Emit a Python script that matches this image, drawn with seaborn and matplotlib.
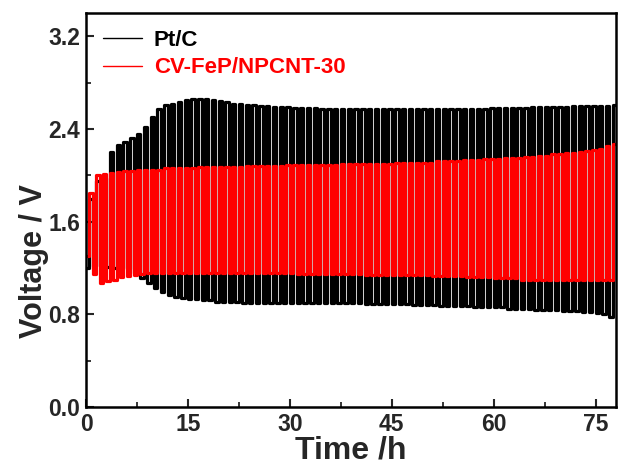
import numpy as np
import pandas as pd
import matplotlib
matplotlib.use("Agg")
import matplotlib.pyplot as plt
from matplotlib.ticker import MultipleLocator
import seaborn as sns

# One charge/discharge cycle per hour: discharge plateau then charge plateau (V)
series_names = ["Pt/C", "CV-FeP/NPCNT-30"]
series_colors = ["#000000", "#ff0000"]

ptc_charge = [
    1.80, 1.95, 1.98, 2.20, 2.26, 2.29, 2.32, 2.36, 2.42, 2.50,
    2.57, 2.61, 2.62, 2.63, 2.65, 2.66, 2.66, 2.66, 2.65, 2.64,
    2.63, 2.62, 2.62, 2.61, 2.61, 2.60, 2.60, 2.59, 2.59, 2.59,
    2.58, 2.58, 2.58, 2.58, 2.57, 2.57, 2.57, 2.57, 2.57, 2.57,
    2.57, 2.57, 2.57, 2.57, 2.57, 2.57, 2.57, 2.57, 2.57, 2.57,
    2.57, 2.57, 2.57, 2.57, 2.57, 2.57, 2.57, 2.57, 2.57, 2.58,
    2.58, 2.58, 2.58, 2.58, 2.58, 2.59, 2.59, 2.59, 2.59, 2.59,
    2.59, 2.60, 2.60, 2.60, 2.60, 2.60, 2.60, 2.61,
]
ptc_discharge = [
    1.20, 1.22, 1.22, 1.21, 1.20, 1.20, 1.19, 1.16, 1.11, 1.07,
    1.03, 0.99, 0.97, 0.95, 0.94, 0.93, 0.93, 0.92, 0.92, 0.91,
    0.91, 0.91, 0.91, 0.90, 0.90, 0.90, 0.90, 0.90, 0.90, 0.90,
    0.90, 0.90, 0.90, 0.90, 0.90, 0.90, 0.90, 0.90, 0.90, 0.90,
    0.90, 0.89, 0.89, 0.89, 0.89, 0.89, 0.89, 0.89, 0.88, 0.88,
    0.88, 0.88, 0.87, 0.87, 0.87, 0.87, 0.87, 0.86, 0.86, 0.86,
    0.86, 0.86, 0.85, 0.85, 0.85, 0.85, 0.84, 0.84, 0.84, 0.84,
    0.83, 0.83, 0.83, 0.82, 0.82, 0.81, 0.80, 0.78,
]
fep_charge = [
    1.85, 2.00, 2.01, 2.02, 2.03, 2.04, 2.04, 2.05, 2.05, 2.05,
    2.05, 2.06, 2.06, 2.06, 2.06, 2.06, 2.07, 2.07, 2.07, 2.07,
    2.07, 2.07, 2.07, 2.08, 2.08, 2.08, 2.08, 2.08, 2.08, 2.09,
    2.09, 2.09, 2.09, 2.09, 2.09, 2.09, 2.09, 2.10, 2.10, 2.10,
    2.10, 2.10, 2.10, 2.10, 2.10, 2.11, 2.11, 2.11, 2.11, 2.11,
    2.11, 2.12, 2.12, 2.12, 2.12, 2.13, 2.13, 2.13, 2.14, 2.14,
    2.14, 2.15, 2.15, 2.15, 2.16, 2.16, 2.17, 2.17, 2.18, 2.18,
    2.19, 2.19, 2.20, 2.21, 2.22, 2.23, 2.25, 2.27,
]
fep_discharge = [
    1.30, 1.15, 1.07, 1.09, 1.10, 1.12, 1.13, 1.14, 1.15, 1.16,
    1.16, 1.16, 1.16, 1.16, 1.16, 1.16, 1.16, 1.16, 1.16, 1.16,
    1.16, 1.16, 1.16, 1.16, 1.16, 1.16, 1.16, 1.16, 1.16, 1.16,
    1.16, 1.15, 1.15, 1.15, 1.15, 1.15, 1.15, 1.15, 1.15, 1.15,
    1.15, 1.14, 1.14, 1.14, 1.14, 1.14, 1.14, 1.14, 1.14, 1.14,
    1.14, 1.13, 1.13, 1.13, 1.13, 1.13, 1.12, 1.12, 1.12, 1.12,
    1.11, 1.11, 1.11, 1.11, 1.10, 1.10, 1.10, 1.10, 1.10, 1.10,
    1.10, 1.10, 1.10, 1.10, 1.10, 1.10, 1.10, 1.10,
]

x_ticks = [0, 15, 30, 45, 60, 75]
y_ticks = [0.0, 0.8, 1.6, 2.4, 3.2]


def cycling_trace(name, charge, discharge):
    """Step trace: each hour-long cycle discharges for 0.5 h, then charges for 0.5 h."""
    rows = []
    for i, (up, low) in enumerate(zip(charge, discharge)):
        rows += [(i, low), (i + 0.5, low), (i + 0.5, up), (i + 1.0, up)]
    df = pd.DataFrame(rows, columns=["Time", "Voltage"])
    df["electrode"] = name
    return df


data = pd.concat([
    cycling_trace(series_names[0], ptc_charge, ptc_discharge),
    cycling_trace(series_names[1], fep_charge, fep_discharge),
], ignore_index=True)

sns.set_theme(style="ticks")
plt.rcParams["font.family"] = ["Liberation Sans", "DejaVu Sans"]
plt.rcParams["font.weight"] = "bold"

fig = plt.figure(figsize=(6.19, 4.70), dpi=100)
ax = fig.add_axes([0.139, 0.134, 0.856, 0.838])

sns.lineplot(data=data, x="Time", y="Voltage", hue="electrode",
             hue_order=series_names, palette=dict(zip(series_names, series_colors)),
             sort=False, estimator=None, linewidth=2.3, ax=ax)

ax.set_xlim(0, 78)
ax.set_ylim(0, 3.4)
ax.set_xticks(x_ticks)
ax.set_yticks(y_ticks)
ax.set_yticklabels([f"{v:.1f}" for v in y_ticks])
ax.xaxis.set_minor_locator(MultipleLocator(7.5))
ax.yaxis.set_minor_locator(MultipleLocator(0.4))
ax.tick_params(which="major", direction="in", length=6, width=1.5,
               labelsize=16.5, pad=4)
ax.tick_params(which="minor", direction="in", length=3.5, width=1.3)
for lab in ax.get_xticklabels() + ax.get_yticklabels():
    lab.set_fontweight("bold")
for sp in ax.spines.values():
    sp.set_linewidth(1.8)
    sp.set_color("black")

ax.set_xlabel("Time /h", fontsize=23, fontweight="bold", labelpad=0)
ax.set_ylabel("Voltage / V", fontsize=22, fontweight="bold")
ax.yaxis.set_label_coords(-0.07, 0.37)

handles, labels = ax.get_legend_handles_labels()
for h in handles:
    h.set_linewidth(1.0)
leg = ax.legend(handles, labels, loc="upper left", frameon=False,
                handlelength=1.75, handletextpad=0.55,
                labelspacing=0.3, borderaxespad=0.35,
                prop={"weight": "bold", "size": 16})
for txt, col in zip(leg.get_texts(), series_colors):
    txt.set_color(col)

fig.savefig("out.png", dpi=100)
